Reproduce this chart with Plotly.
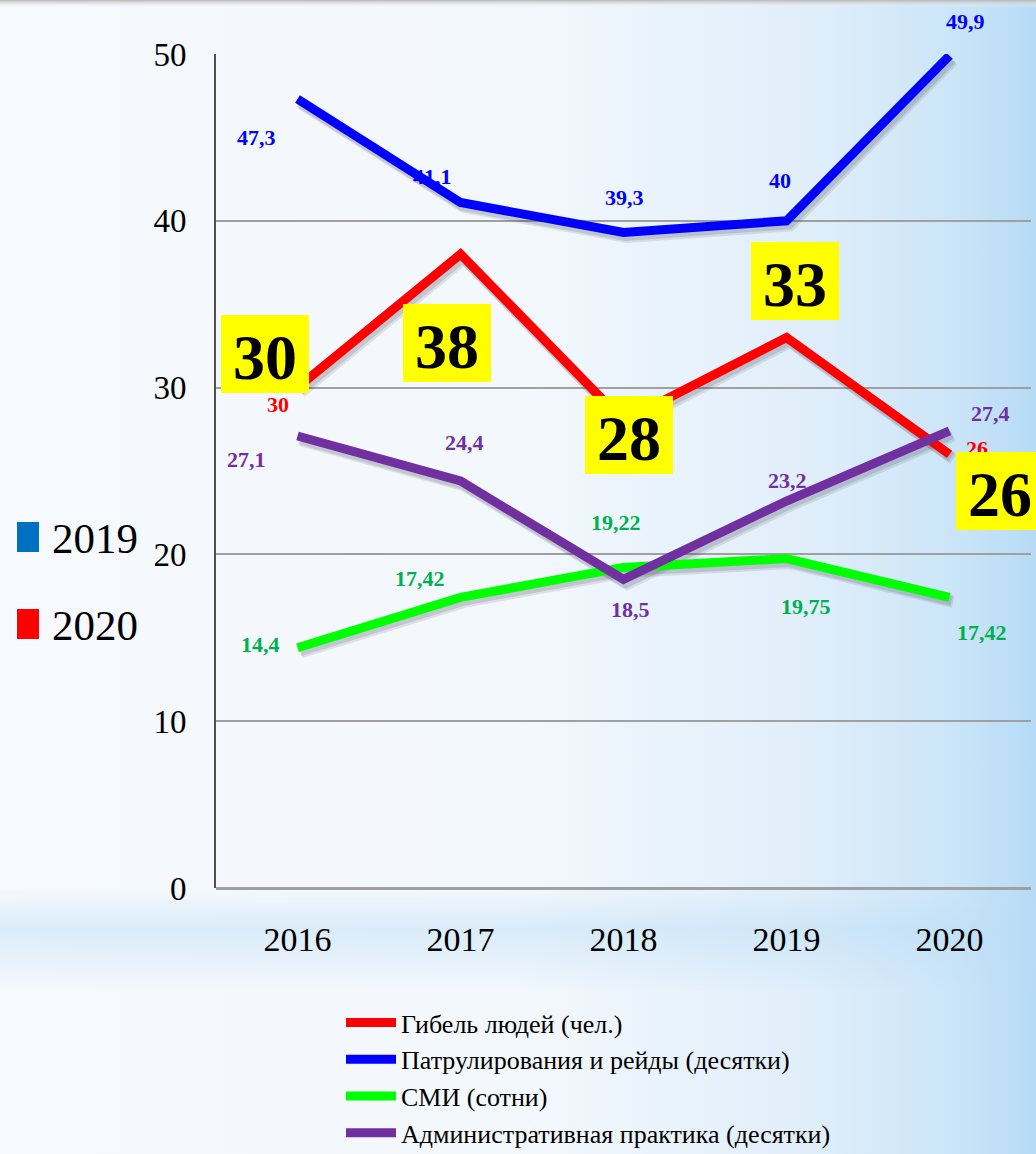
import base64
import plotly.graph_objects as go

# ---------------- data ----------------
years = ["2016", "2017", "2018", "2019", "2020"]
deaths = [30, 38, 28, 33, 26]                  # Гибель людей (чел.)
patrols = [47.3, 41.1, 39.3, 40, 49.9]         # Патрулирования и рейды (десятки)
media = [14.4, 17.42, 19.22, 19.75, 17.42]     # СМИ (сотни)
admin = [27.1, 24.4, 18.5, 23.2, 27.4]         # Административная практика (десятки)
y_ticks = [0, 10, 20, 30, 40, 50]
series_names = [
    "Гибель людей (чел.)",
    "Патрулирования и рейды (десятки)",
    "СМИ (сотни)",
    "Административная практика (десятки)",
]
side_legend = ["2019", "2020"]

# ---------------- styles ----------------
line_colors = ["#FF0000", "#0000FF", "#00FF00", "#7030A0"]
label_colors = ["#FF0000", "#0000FF", "#00B050", "#7030A0"]
side_colors = ["#0070C0", "#FF0000"]
SERIF = "Liberation Serif"

# label offsets (px) relative to each point; None = label hidden under a box
off_deaths = [(-20, -17), None, None, None, (27, 6)]
off_patrols = [(-41, -38), (-28, 26), (1, 35), (-7, 40), (16, 34)]
off_media = [(-37, 3), (-41, 19), (-8, 45), (19, -48), (32, -35)]
off_admin = [(-51, -24), (4, 39), (7, -30), (1, 21), (41, 17)]
off_boxes = [(-33, 34), (-14, -89), (5, -14), (8, 57), (50, -37)]

W, H = 1036, 1154
L, R, T, B = 216, 5, 54, 266
PW, PH = W - L - R, H - T - B


def px(xp):
    return (xp - L) / PW


def py(yp):
    return (H - B - yp) / PH


def fmt(v):
    return str(int(v)) if float(v).is_integer() else str(v).replace(".", ",")


xs = list(range(len(years)))
all_series = [deaths, patrols, media, admin]

fig = go.Figure()

# soft shadows under the lines
for vals in all_series:
    for k, a in ((1.0, 0.12), (0.6, 0.16)):
        fig.add_trace(go.Scatter(
            x=[x + 0.022 * k for x in xs], y=[v - 0.3 * k for v in vals], mode="lines",
            line=dict(color=f"rgba(60,60,75,{a})", width=11),
            showlegend=False, hoverinfo="skip"))

for vals, name, col in zip(all_series, series_names, line_colors):
    fig.add_trace(go.Scatter(
        x=xs, y=vals, mode="lines", name=name,
        line=dict(color=col, width=9)))

annotations = []
for vals, offs, col in zip([patrols, media, admin, deaths],
                           [off_patrols, off_media, off_admin, off_deaths],
                           [label_colors[1], label_colors[2], label_colors[3], label_colors[0]]):
    for x, v, off in zip(xs, vals, offs):
        if off is None:
            continue
        annotations.append(dict(
            x=x, y=v, xref="x", yref="y", text=fmt(v), showarrow=False,
            xshift=off[0], yshift=off[1],
            font=dict(family=SERIF, size=22, color=col, weight="bold")))

for x, v, (dx, dy) in zip(xs, deaths, off_boxes):
    annotations.append(dict(
        x=x, y=v, xref="x", yref="y", text=fmt(v), showarrow=False,
        xshift=dx, yshift=dy, bgcolor="#FFFF00", width=88, height=78,
        borderpad=0, borderwidth=0, valign="bottom", align="center",
        font=dict(family=SERIF, size=64, color="#000000", weight="bold")))

# side legend (2019 / 2020)
shapes = []
for i, (lbl, col) in enumerate(zip(side_legend, side_colors)):
    top = 522 + i * 87
    shapes.append(dict(type="rect", xref="paper", yref="paper",
                       x0=px(17), x1=px(39), y0=py(top + 30), y1=py(top),
                       fillcolor=col, line=dict(width=0), layer="above"))
    annotations.append(dict(
        x=px(50), y=py(top + 16), xref="paper", yref="paper", text=lbl,
        showarrow=False, xanchor="left", yanchor="middle",
        font=dict(family=SERIF, size=43, color="#000000")))

# background gradient (SVG)
svg = f"""<svg xmlns='http://www.w3.org/2000/svg' width='{W}' height='{H}' viewBox='0 0 {W} {H}' preserveAspectRatio='none'>
<defs>
<linearGradient id='h' x1='0' y1='0' x2='1' y2='0'>
<stop offset='0' stop-color='#F6F9FD'/>
<stop offset='0.5' stop-color='#F3F8FD'/>
<stop offset='0.78' stop-color='#E0EEFA'/>
<stop offset='0.92' stop-color='#CBE5F8'/>
<stop offset='1' stop-color='#B6DBF6'/>
</linearGradient>
<linearGradient id='v' x1='0' y1='0' x2='0' y2='1'>
<stop offset='0' stop-color='#BADCF5' stop-opacity='0'/>
<stop offset='0.77' stop-color='#BADCF5' stop-opacity='0'/>
<stop offset='0.805' stop-color='#BADCF5' stop-opacity='0.45'/>
<stop offset='0.86' stop-color='#BADCF5' stop-opacity='0'/>
<stop offset='1' stop-color='#BADCF5' stop-opacity='0'/>
</linearGradient>
<linearGradient id='t' x1='0' y1='0' x2='0' y2='1'>
<stop offset='0' stop-color='#B8B8B8' stop-opacity='1'/>
<stop offset='1' stop-color='#FFFFFF' stop-opacity='0'/>
</linearGradient>
</defs>
<rect width='{W}' height='{H}' fill='url(#h)'/>
<rect width='{W}' height='{H}' fill='url(#v)'/>
<rect width='{W}' height='8' fill='url(#t)'/>
</svg>"""
bg_src = "data:image/svg+xml;base64," + base64.b64encode(svg.encode("utf-8")).decode("ascii")

fig.update_layout(
    width=W, height=H,
    margin=dict(l=L, r=R, t=T, b=B, autoexpand=False),
    paper_bgcolor="#FFFFFF",
    plot_bgcolor="rgba(0,0,0,0)",
    font=dict(family=SERIF, color="#000000"),
    images=[dict(source=bg_src, xref="paper", yref="paper",
                 x=px(0), y=py(0), sizex=W / PW, sizey=H / PH,
                 xanchor="left", yanchor="top", sizing="stretch", layer="below")],
    annotations=annotations,
    shapes=shapes,
    showlegend=True,
    legend=dict(
        x=px(341), y=py(999), xanchor="left", yanchor="top",
        bgcolor="rgba(0,0,0,0)", font=dict(family=SERIF, size=26, color="#000000"),
        itemwidth=50, tracegroupgap=0),
    xaxis=dict(
        range=[-0.5, 4.5], tickmode="array", tickvals=xs, ticktext=years,
        showgrid=False, zeroline=False, showline=False, ticks="",
        tickfont=dict(family=SERIF, size=34, color="#000000"),
        ticklabelstandoff=28, fixedrange=True, automargin=False),
    yaxis=dict(
        range=[0, 50], tickmode="array", tickvals=y_ticks,
        showgrid=True, gridcolor="#A0A0A0", gridwidth=2,
        zeroline=True, zerolinecolor="#A0A0A0", zerolinewidth=3,
        showline=True, linecolor="#505050", linewidth=2,
        ticks="", tickfont=dict(family=SERIF, size=33, color="#000000"),
        ticklabelstandoff=21, fixedrange=True, automargin=False),
)

fig.write_html(
    "out.html",
    config={"displayModeBar": False},
    post_script="document.body.style.margin='0';",
)
